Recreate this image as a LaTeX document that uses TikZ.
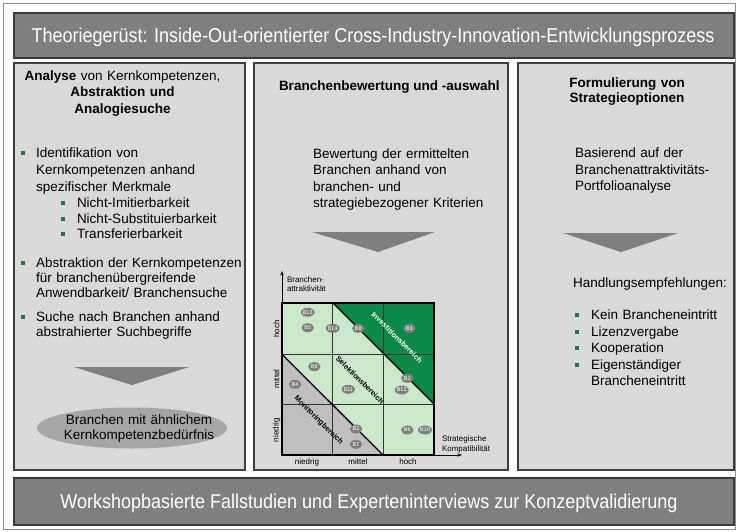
\documentclass[tikz,border=0pt]{standalone}
\usepackage{fontspec}
\setmainfont{Liberation Sans}
\newfontfamily\barfont[FakeStretch=0.9]{Liberation Sans}
\usetikzlibrary{shapes.geometric,arrows.meta}
\definecolor{bargray}{HTML}{7F7F7F}
\definecolor{barborder}{HTML}{3A3A3A}
\definecolor{boxfill}{HTML}{D9D9D9}
\definecolor{boxborder}{HTML}{3F3F3F}
\definecolor{framegray}{HTML}{8C8C8C}
\definecolor{arrowgray}{HTML}{7F7F7F}
\definecolor{ellgray}{HTML}{A6A6A6}
\definecolor{bulgreen}{HTML}{1E7B46}
\definecolor{invgreen}{HTML}{0B8A47}
\definecolor{selgreen}{HTML}{CBE8CB}
\definecolor{mongray}{HTML}{BFBFBF}
\definecolor{bubgray}{HTML}{808080}
\hyphenpenalty=10000
\exhyphenpenalty=10000
\begin{document}
\begin{tikzpicture}[x=1pt,y=-1pt,
  every node/.style={inner sep=0pt, outer sep=0pt},
  colbox/.style={draw=boxborder, line width=1.2pt, fill=boxfill},
  barbox/.style={draw=barborder, line width=1.2pt, fill=bargray},
  bartext/.style={text=white, font=\barfont\fontsize{20}{22}\selectfont, anchor=base},
  body/.style={font=\fontsize{13.5}{#1}\selectfont, anchor=base west, align=left, text width=225pt},
  body/.default=17pt,
  head/.style={font=\fontsize{13.5}{#1}\selectfont\bfseries, anchor=base, align=center, text width=220pt},
  head/.default=16pt,
  bul/.style={fill=bulgreen, minimum size=4pt},
  downarrow/.style={fill=arrowgray},
  bubble/.style={ellipse, fill=bubgray, minimum width=12.5pt, minimum height=9pt, text=white, font=\fontsize{5.5}{6}\selectfont},
  small/.style={font=\fontsize{8}{9.5}\selectfont},
  region/.style={font=\fontsize{7.5}{8}\selectfont\bfseries, rotate=-45},
  gridline/.style={draw=black!80, line width=0.6pt}
]
\useasboundingbox (0,0) rectangle (737,531);
% outer frame
\draw[framegray, line width=0.8pt] (3,3) rectangle (735,529);
% title bar
\draw[barbox] (14,13) rectangle (734,58);
\node[bartext] (title) at (373,42.5) {Theoriegerüst: Inside-Out-orientierter Cross-Industry-Innovation-Entwicklungsprozess};
% columns
\draw[colbox] (14,63) rectangle (245,470);
\draw[colbox] (254,63) rectangle (508,470);
\draw[colbox] (518,63) rectangle (734,470);
% bottom bar
\draw[barbox] (14,478) rectangle (734,525);
\node[bartext] (footer) at (369,508.5) {Workshopbasierte Fallstudien und Experteninterviews zur Konzeptvalidierung};

% ---------- left column
\node[head, font=\fontsize{13.5}{16.5}\selectfont] (lhead) at (122.5,80) {\textbf{Analyse} von Kernkompetenzen,\\ \textbf{Abstraktion und}\\ \textbf{Analogiesuche}};
\node[bul] (lb1) at (23,153) {};
\node[body=17pt] (li1) at (36,157.5) {Identifikation von\\ Kernkompetenzen anhand\\ spezifischer Merkmale};
\node[bul] (lb1a) at (63,203) {};
\node[body] (li1a) at (77,207.5) {Nicht-Imitierbarkeit};
\node[bul] (lb1b) at (63,218.5) {};
\node[body] (li1b) at (77,223) {Nicht-Substituierbarkeit};
\node[bul] (lb1c) at (63,234) {};
\node[body] (li1c) at (77,238.5) {Transferierbarkeit};
\node[bul] (lb2) at (23,263) {};
\node[body=15pt] (li2) at (36,267.5) {Abstraktion der Kernkompetenzen\\ für branchenübergreifende\\ Anwendbarkeit/ Branchensuche};
\node[bul] (lb3) at (23,317) {};
\node[body=15pt] (li3) at (36,321.5) {Suche nach Branchen anhand\\ abstrahierter Suchbegriffe};
\fill[downarrow] (74,367) -- (189,367) -- (132,385) -- cycle;
\node[ellipse, fill=ellgray, minimum width=190pt, minimum height=41pt] (lell) at (132,428) {};
\node[font=\fontsize{13.5}{15}\selectfont, align=center, anchor=base, text width=200pt] (lelltext) at (139,424.5) {Branchen mit ähnlichem\\ Kernkompetenzbedürfnis};

% ---------- middle column
\node[font=\fontsize{13.5}{16}\selectfont\bfseries, anchor=base west] (mhead) at (279,90) {Branchenbewertung und -auswahl};
\node[body=16.3pt] (mtext) at (313,158.5) {Bewertung der ermittelten\\ Branchen anhand von\\ branchen- und\\ strategiebezogener Kriterien};
\fill[downarrow] (312,232) -- (435,232) -- (378,252) -- cycle;

% chart
\fill[selgreen] (282,303) rectangle (434,455);
\fill[invgreen] (333,303) -- (434,303) -- (434,404) -- cycle;
\fill[mongray] (282,354.3) -- (383,455) -- (282,455) -- cycle;
\draw[gridline] (332.7,303) -- (332.7,455);
\draw[gridline] (383.3,303) -- (383.3,455);
\draw[gridline] (282,354.3) -- (434,354.3);
\draw[gridline] (282,404.3) -- (434,404.3);
\draw[line width=1.3pt] (333,303) -- (434,404);
\draw[line width=1.3pt] (282,354.3) -- (383,455);
\draw[line width=1.6pt] (282,303) rectangle (434,455);
\coordinate (origin) at (282,455);
\coordinate (ytip) at (282,271);
\coordinate (xtip) at (462,455);
\draw[line width=0.7pt, -{Stealth[length=4.5pt,width=3.5pt]}] (origin) -- (ytip);
\draw[line width=0.7pt, -{Stealth[length=4.5pt,width=3.5pt]}] (origin) -- (xtip);
\node[small, anchor=base west, align=left, text width=60pt] (ylab) at (287,282) {Branchen-\\ attraktivität};
\node[small, anchor=base west, align=left, text width=60pt] (xlab) at (442,441.5) {Strategische\\ Kompatibilität};
\node[small, rotate=90] (yhoch) at (276.5,329) {hoch};
\node[small, rotate=90] (ymittel) at (276.5,379) {mittel};
\node[small, rotate=90] (yniedrig) at (276.5,430) {niedrig};
\node[small] (xniedrig) at (307,462) {niedrig};
\node[small] (xmittel) at (358,462) {mittel};
\node[small] (xhoch) at (408,462) {hoch};
\node[region, text=white] (inv) at (397,337.5) {Investitionsbereich};
\node[region] (sel) at (360,380) {Selektionsbereich};
\node[region] (mon) at (318.5,420.5) {Monitoringbereich};
\node[bubble] (b13) at (307.7,312.3) {B13};
\node[bubble] (b5) at (307.7,327.7) {B5};
\node[bubble] (b14) at (332.7,328.3) {B14};
\node[bubble] (b8) at (358.3,328.3) {B8};
\node[bubble] (b3) at (409.3,328.3) {B3};
\node[bubble] (b9) at (314.3,366.7) {B9};
\node[bubble] (b4) at (295,384.3) {B4};
\node[bubble] (b11) at (348.3,389.3) {B11};
\node[bubble] (b1) at (407.3,378.3) {B1};
\node[bubble] (b12) at (401.7,390) {B12};
\node[bubble] (b2) at (356,429) {B2};
\node[bubble] (b7) at (356,444.3) {B7};
\node[bubble] (b6) at (407.3,430) {B6};
\node[bubble] (b10) at (425,430) {B10};

% ---------- right column
\node[head, font=\fontsize{13.5}{15}\selectfont\bfseries] (rhead) at (627,87) {Formulierung von\\ Strategieoptionen};
\node[body=16.5pt] (rtext) at (575,157.5) {Basierend auf der\\ Branchenattraktivitäts-\\ Portfolioanalyse};
\fill[downarrow] (563,233) -- (678,233) -- (621,252) -- cycle;
\node[body] (rhand) at (573,287.5) {Handlungsempfehlungen:};
\node[bul] (rb1) at (577,315) {};
\node[body] (ri1) at (591,319.5) {Kein Brancheneintritt};
\node[bul] (rb2) at (577,332) {};
\node[body] (ri2) at (591,336.5) {Lizenzvergabe};
\node[bul] (rb3) at (577,348) {};
\node[body] (ri3) at (591,352.5) {Kooperation};
\node[bul] (rb4) at (577,365) {};
\node[body=16pt] (ri4) at (591,369.5) {Eigenständiger\\ Brancheneintritt};
\end{tikzpicture}
\end{document}
